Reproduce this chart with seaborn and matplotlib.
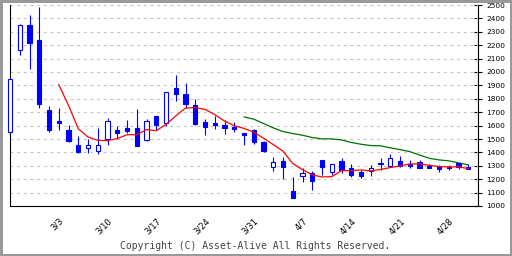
import numpy as np
import pandas as pd
import matplotlib
matplotlib.use("Agg")
import matplotlib.pyplot as plt
import seaborn as sns

# ---- data ----
opens  = [1555, 2167, 2353, 2237, 1719, 1632, 1565, 1458, 1435, 1410, 1503, 1565,
          1580, 1580, 1492, 1669, 1617, 1878, 1833, 1751, 1624, 1617, 1602, 1589,
          1543, 1568, 1476, 1292, 1339, 1115, 1224, 1247, 1346, 1254, 1339, 1284,
          1252, 1262, 1314, 1302, 1339, 1314, 1332, 1302, 1297, 1294, 1322, 1292]
highs  = [1950, 2355, 2423, 2485, 1749, 1729, 1607, 1525, 1498, 1580, 1654, 1597,
          1639, 1721, 1647, 1669, 1848, 1975, 1915, 1796, 1647, 1672, 1642, 1624,
          1545, 1576, 1484, 1366, 1366, 1217, 1287, 1259, 1346, 1314, 1361, 1317,
          1272, 1307, 1359, 1389, 1376, 1346, 1342, 1317, 1309, 1307, 1322, 1317]
lows   = [1555, 2127, 2023, 1731, 1552, 1567, 1478, 1396, 1396, 1388, 1458, 1503,
          1547, 1448, 1482, 1565, 1597, 1784, 1734, 1604, 1530, 1572, 1537, 1552,
          1456, 1461, 1406, 1264, 1202, 1057, 1177, 1117, 1234, 1232, 1247, 1219,
          1209, 1224, 1272, 1292, 1289, 1282, 1282, 1282, 1252, 1267, 1277, 1277]
closes = [1950, 2353, 2217, 1761, 1567, 1620, 1485, 1403, 1453, 1458, 1637, 1545,
          1560, 1448, 1632, 1604, 1848, 1836, 1761, 1612, 1589, 1604, 1582, 1575,
          1528, 1476, 1414, 1329, 1289, 1057, 1244, 1189, 1292, 1314, 1272, 1229,
          1227, 1284, 1320, 1359, 1299, 1297, 1282, 1282, 1274, 1282, 1292, 1277]

ma_short_start = 5
ma_short = [1906, 1751, 1577, 1515, 1490, 1488, 1503, 1532, 1532, 1570, 1562, 1609,
            1672, 1731, 1734, 1721, 1682, 1634, 1599, 1579, 1551, 1506, 1459, 1409,
            1317, 1272, 1232, 1217, 1219, 1264, 1264, 1269, 1262, 1272, 1287, 1299,
            1314, 1314, 1304, 1294, 1292, 1292, 1279]
ma_long_start = 24
ma_long = [1665, 1648, 1616, 1583, 1556, 1541, 1528, 1511, 1501, 1501, 1493, 1474,
           1461, 1451, 1449, 1434, 1421, 1406, 1381, 1356, 1344, 1337, 1322, 1307]

tick_pos = [5, 10, 15, 20, 25, 30, 35, 40, 45]
tick_labels = ['3/3', '3/10', '3/17', '3/24', '3/31', '4/7', '4/14', '4/21', '4/28']
y_ticks = list(range(1000, 2501, 100))

sns.set_style("white")
plt.rcParams['font.family'] = ['DejaVu Sans']

fig = plt.figure(figsize=(5.12, 2.56), dpi=100, linewidth=2.5, edgecolor='#999999')
ax = fig.add_axes([10 / 512, (256 - 206) / 256, 468 / 512, 201 / 256])

n = len(opens)
idx = np.arange(n)
o = np.array(opens); c = np.array(closes); h = np.array(highs); l = np.array(lows)
blue = '#0000FF'

# wicks
ax.vlines(idx, l, h, color=blue, lw=0.8, zorder=3, clip_on=False)
# bodies
up = c >= o
bottoms = np.minimum(o, c)
heights = np.maximum(np.abs(c - o), 4)
ax.bar(idx[up], heights[up], bottom=bottoms[up], width=0.42, color='white',
       edgecolor=blue, linewidth=0.8, zorder=4, clip_on=False)
ax.bar(idx[~up], heights[~up], bottom=bottoms[~up], width=0.42, color=blue,
       edgecolor=blue, linewidth=0.8, zorder=4, clip_on=False)

df_s = pd.DataFrame({'x': np.arange(ma_short_start, ma_short_start + len(ma_short)), 'y': ma_short})
df_l = pd.DataFrame({'x': np.arange(ma_long_start, ma_long_start + len(ma_long)), 'y': ma_long})
sns.lineplot(data=df_s, x='x', y='y', ax=ax, color='#FF0000', lw=0.9, zorder=5)
sns.lineplot(data=df_l, x='x', y='y', ax=ax, color='#007000', lw=0.9, zorder=2)

ax.set_xlim(0, 48)
ax.set_ylim(1000, 2500)
ax.set_xlabel('')
ax.set_ylabel('')

for v in y_ticks[1:]:
    ax.axhline(v, color='#C4C4C4', lw=0.8, ls=(0, (2.6, 3.4)), zorder=1)

ax.yaxis.tick_right()
ax.set_yticks(y_ticks)
ax.set_yticklabels([str(v) for v in y_ticks], fontsize=5.3)
ax.tick_params(axis='y', direction='inout', length=6, width=0.8, pad=3, colors='black')

ax.set_xticks(tick_pos)
ax.set_xticklabels(tick_labels, fontsize=6, rotation=45, ha='right', rotation_mode='anchor')
ax.tick_params(axis='x', direction='inout', length=6.5, width=0.8, pad=4, colors='black')

for s in ['left', 'bottom', 'right']:
    ax.spines[s].set_visible(True)
    ax.spines[s].set_color('black')
    ax.spines[s].set_linewidth(0.8)
ax.spines['top'].set_visible(False)

fig.text(0.498, (256 - 246) / 256, 'Copyright (C) Asset-Alive All Rights Reserved.',
         ha='center', va='center', fontsize=7, color='#444444', family='DejaVu Sans Mono')

fig.savefig('out.png', dpi=100, edgecolor=fig.get_edgecolor())
